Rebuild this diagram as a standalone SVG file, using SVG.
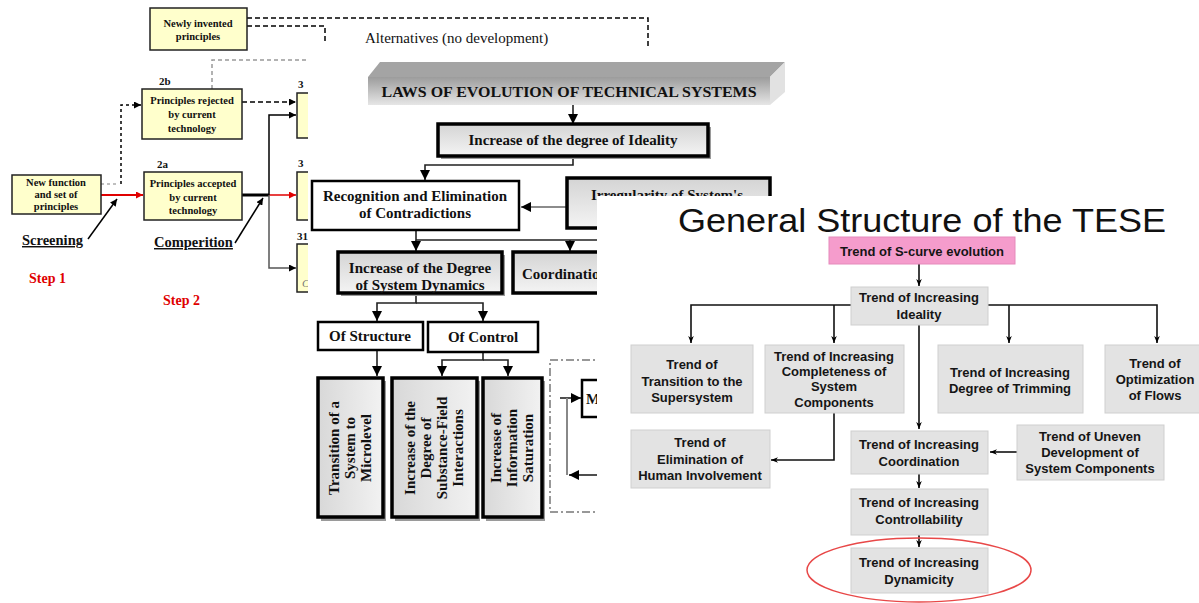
<svg xmlns="http://www.w3.org/2000/svg" width="1199" height="603" viewBox="0 0 1199 603">
<defs>
<marker id="ah" viewBox="0 0 10 10" refX="10" refY="5" markerWidth="7" markerHeight="7" orient="auto" markerUnits="userSpaceOnUse"><path d="M0,0 L10,5 L0,10 z" fill="#000"/></marker>
<marker id="ahr" viewBox="0 0 10 10" refX="10" refY="5" markerWidth="8" markerHeight="7" orient="auto" markerUnits="userSpaceOnUse"><path d="M0,0 L10,5 L0,10 z" fill="#e00000"/></marker>
<marker id="ahm" viewBox="0 0 10 10" refX="10" refY="5" markerWidth="10" markerHeight="10" orient="auto" markerUnits="userSpaceOnUse"><path d="M0,0 L10,5 L0,10 z" fill="#000"/></marker>
<marker id="aht" viewBox="0 0 10 10" refX="10" refY="5" markerWidth="9" markerHeight="7" orient="auto" markerUnits="userSpaceOnUse"><path d="M0,1 L10,5 L0,9 L3,5 z" fill="#000"/></marker>
<linearGradient id="gbar" x1="0" y1="0" x2="0" y2="1"><stop offset="0" stop-color="#9c9c9c"/><stop offset="1" stop-color="#e6e6e6"/></linearGradient>
<linearGradient id="gbox" x1="0" y1="0" x2="0" y2="1"><stop offset="0" stop-color="#d4d4d4"/><stop offset="1" stop-color="#f4f4f4"/></linearGradient>
<linearGradient id="gtall" x1="0" y1="0" x2="1" y2="0"><stop offset="0" stop-color="#d8d8d8"/><stop offset="1" stop-color="#f2f2f2"/></linearGradient>
<style>
.yb{fill:#ffffcc;stroke:#222;stroke-width:1.5}
.lt{font-family:"Liberation Serif",serif;font-weight:bold;font-size:10.5px;text-anchor:middle;fill:#111}
.lb{font-family:"Liberation Serif",serif;font-weight:bold;font-size:11px;fill:#111}
.step{font-family:"Liberation Serif",serif;font-weight:bold;font-size:14px;fill:#e00000}
.ul{font-family:"Liberation Serif",serif;font-weight:bold;font-size:14.5px;fill:#111;text-decoration:underline}
.mt{font-family:"Liberation Serif",serif;font-weight:bold;font-size:15px;text-anchor:middle;fill:#111}
.ms{font-family:"Liberation Serif",serif;font-weight:bold;font-size:15px;text-anchor:start;fill:#111}
.tb{stroke:#000;stroke-width:3.5}
.wb{fill:#fff;stroke:#000;stroke-width:2.5}
.sh{fill:#9a9a9a}
.rt{font-family:"Liberation Sans",sans-serif;font-weight:bold;font-size:13px;text-anchor:middle;fill:#151515}
.gb{fill:#e3e3e3;stroke:#cfcfcf;stroke-width:1}
.ln{fill:none;stroke:#000;stroke-width:1.5}
.lnm{fill:none;stroke:#222;stroke-width:1.6}
.lnr{fill:none;stroke:#111;stroke-width:1.6}
</style>
</defs>
<rect width="1199" height="603" fill="#fff"/>

<!-- LEFT PANEL -->
<g id="left-connectors">
<path d="M247,18 H648 V46" class="ln" stroke-dasharray="5,3"/>
<path d="M247,26 H325 V44" class="ln" stroke-dasharray="5,3"/>
<path d="M212,89 V60 H307" fill="none" stroke="#999" stroke-width="1.5" stroke-dasharray="4,3"/>
<path d="M242,102 H296" class="ln" stroke-dasharray="5,3" marker-end="url(#ah)"/>
<path d="M101,184 H118" fill="none" stroke="#aaa" stroke-width="1.5" stroke-dasharray="3,3"/>
<path d="M121,184 V105 H141" class="ln" stroke-dasharray="3,3" marker-end="url(#ah)"/>
<path d="M101,195 H143" fill="none" stroke="#e00000" stroke-width="2" marker-end="url(#ahr)"/>
<path d="M242,195 H269" fill="none" stroke="#000" stroke-width="3"/>
<path d="M269,195 H296" fill="none" stroke="#e00000" stroke-width="1.5" marker-end="url(#ahr)"/>
<path d="M269,195 V115 H296" class="ln" marker-end="url(#ah)"/>
<path d="M269,195 V268 H296" fill="none" stroke="#555" stroke-width="1.5" marker-end="url(#ah)"/>
<path d="M88,239 L117,199" class="ln" marker-end="url(#ah)"/>
<path d="M235,243 L263,198" class="ln" marker-end="url(#ah)"/>
</g>
<g id="n-newly"><rect class="yb" x="150" y="8" width="97" height="42"/><text class="lt" x="198" y="27">Newly invented</text><text class="lt" x="198" y="40">principles</text></g>
<g id="n-alternatives"><text x="365" y="43" font-family="Liberation Serif, serif" font-size="15" fill="#111">Alternatives (no development)</text></g>
<g id="n-2b"><text class="lb" x="159" y="85">2b</text><rect class="yb" x="142" y="89" width="100" height="50"/><text class="lt" x="192" y="104">Principles rejected</text><text class="lt" x="192" y="118">by current</text><text class="lt" x="192" y="132">technology</text></g>
<g id="n-2a"><text class="lb" x="157" y="168">2a</text><rect class="yb" x="144" y="172" width="98" height="48"/><text class="lt" x="193" y="187">Principles accepted</text><text class="lt" x="193" y="201">by current</text><text class="lt" x="193" y="214">technology</text></g>
<g id="n-newfunc"><rect class="yb" x="12" y="175" width="89" height="39"/><text class="lt" x="56" y="186">New function</text><text class="lt" x="56" y="198">and set of</text><text class="lt" x="56" y="210">principles</text></g>
<g id="n-screening"><text class="ul" x="22" y="245">Screening</text><text class="step" x="29" y="283">Step 1</text></g>
<g id="n-competition"><text class="ul" x="154" y="247">Comperition</text><text class="step" x="163" y="305">Step 2</text></g>
<g id="n-3a"><text class="lb" x="298" y="88">3</text><rect class="yb" x="297" y="93" width="30" height="45"/></g>
<g id="n-3b"><text class="lb" x="298" y="167">3</text><rect class="yb" x="297" y="172" width="30" height="48"/></g>
<g id="n-3c"><text class="lb" x="297" y="240">31</text><rect class="yb" x="297" y="244" width="30" height="48"/><text x="302" y="287" font-family="Liberation Serif, serif" font-style="italic" font-size="11" fill="#777">C</text></g>

<!-- MIDDLE PANEL -->
<rect x="308" y="50" width="490" height="475" fill="#fff"/>
<g id="middle-connectors">
<path d="M573,105 V124" class="lnm" marker-end="url(#ahm)"/>
<path d="M573,156 V165 H425 V180" class="lnm" marker-end="url(#ahm)"/>
<path d="M567,207 H521" fill="none" stroke="#666" stroke-width="1.6" marker-end="url(#ahm)"/>
<path d="M416,230 V240 H600" class="lnm"/>
<path d="M416,240 V251" class="lnm" marker-end="url(#ahm)"/>
<path d="M570,240 V251" class="lnm" marker-end="url(#ahm)"/>
<path d="M416,294 V303 H377 V321" class="lnm" marker-end="url(#ahm)"/>
<path d="M416,303 H483 V321" class="lnm" marker-end="url(#ahm)"/>
<path d="M377,351 V376" class="lnm" marker-end="url(#ahm)"/>
<path d="M483,353 V360 H442 V376" class="lnm" marker-end="url(#ahm)"/>
<path d="M483,360 H508 V376" class="lnm" marker-end="url(#ahm)"/>
<path d="M560,398 H581" class="lnm" marker-end="url(#ahm)"/>
<path d="M567,398 V475" fill="none" stroke="#888" stroke-width="2"/>
<path d="M600,475 H569" class="lnm" marker-end="url(#ahm)"/>
</g>
<g id="n-laws">
<polygon points="368,77 380,62 785,62 770,77" fill="#a4a4a4"/>
<polygon points="368,77 770,77 770,105 368,105" fill="url(#gbar)"/>
<polygon points="770,77 785,62 785,92 770,105" fill="#e2e2e2"/>
<text class="mt" x="569" y="97" font-size="17" textLength="375" lengthAdjust="spacingAndGlyphs">LAWS OF EVOLUTION OF TECHNICAL SYSTEMS</text>
</g>
<g id="n-ideality-m"><rect class="sh" x="441" y="127" width="270" height="32"/><rect class="tb" x="438" y="124" width="270" height="32" fill="url(#gbox)"/><text class="mt" x="573" y="145">Increase of the degree of Ideality</text></g>
<g id="n-recognition"><rect class="wb" x="312" y="181" width="207" height="49"/><text class="mt" x="415" y="201">Recognition and Elimination</text><text class="mt" x="415" y="218">of Contradictions</text></g>
<g id="n-irregularity"><rect class="tb" x="567" y="178" width="203" height="50" fill="url(#gbox)"/><text class="mt" x="667" y="200">Irregularity of System's</text></g>
<g id="n-dynamics"><rect class="sh" x="341" y="255" width="164" height="41"/><rect class="tb" x="338" y="252" width="164" height="41" fill="url(#gbox)"/><text class="mt" x="420" y="273">Increase of the Degree</text><text class="mt" x="420" y="290">of System Dynamics</text></g>
<g id="n-coordination-m"><rect class="tb" x="513" y="252" width="120" height="41" fill="url(#gbox)"/><text class="ms" x="522" y="279">Coordination</text></g>
<g id="n-structure"><rect class="wb" x="318" y="322" width="105" height="28"/><text class="mt" x="370" y="341">Of Structure</text></g>
<g id="n-control"><rect class="wb" x="428" y="322" width="110" height="30"/><text class="mt" x="483" y="342">Of Control</text></g>
<g id="n-microlevel"><rect class="sh" x="321" y="381" width="65" height="140"/><rect class="tb" x="318" y="378" width="65" height="139" fill="url(#gtall)"/>
<g transform="translate(350,448) rotate(-90)"><text class="mt" x="0" y="-11">Transition of a</text><text class="mt" x="0" y="5">System to</text><text class="mt" x="0" y="21">Microlevel</text></g></g>
<g id="n-sufield"><rect class="sh" x="395" y="381" width="85" height="140"/><rect class="tb" x="392" y="378" width="85" height="139" fill="url(#gtall)"/>
<g transform="translate(434,448) rotate(-90)"><text class="mt" x="0" y="-19">Increase of the</text><text class="mt" x="0" y="-3">Degree of</text><text class="mt" x="0" y="13">Substance-Field</text><text class="mt" x="0" y="29">Interactions</text></g></g>
<g id="n-information"><rect class="sh" x="486" y="381" width="59" height="140"/><rect class="tb" x="483" y="378" width="59" height="139" fill="url(#gtall)"/>
<g transform="translate(512,448) rotate(-90)"><text class="mt" x="0" y="-11">Increase of</text><text class="mt" x="0" y="5">Information</text><text class="mt" x="0" y="21">Saturation</text></g></g>
<g id="n-dashbox"><rect x="550" y="360" width="80" height="152" fill="none" stroke="#777" stroke-width="1.5" stroke-dasharray="8,3,2,3"/>
<rect class="wb" x="582" y="380" width="40" height="37"/><text class="ms" x="586" y="404">M</text></g>

<!-- RIGHT PANEL -->
<rect x="597" y="196" width="602" height="407" fill="#fff"/>
<g id="n-title"><text x="678" y="232" font-family="Liberation Sans, Arial, sans-serif" font-size="34" fill="#111" textLength="488" lengthAdjust="spacingAndGlyphs">General Structure of the TESE</text></g>
<g id="right-connectors">
<path d="M919,264 V286" class="lnr" marker-end="url(#aht)"/>
<path d="M851,305 H691 V343" class="lnr" marker-end="url(#aht)"/>
<path d="M834,305 V343" class="lnr" marker-end="url(#aht)"/>
<path d="M988,305 H1157 V343" class="lnr" marker-end="url(#aht)"/>
<path d="M1009,305 V343" class="lnr" marker-end="url(#aht)"/>
<path d="M919,325 V429" class="lnr" marker-end="url(#aht)"/>
<path d="M834,413 V460 H771" class="lnr" marker-end="url(#aht)"/>
<path d="M1017,452 H990" class="lnr" marker-end="url(#aht)"/>
<path d="M919,474 V488" class="lnr" marker-end="url(#aht)"/>
<path d="M919,535 V547" class="lnr" marker-end="url(#aht)"/>
</g>
<g id="n-scurve"><rect x="829" y="237" width="186" height="27" fill="#f59ccc" stroke="#e58abb"/><text class="rt" x="922" y="256">Trend of S-curve evolution</text></g>
<g id="n-ideality"><rect class="gb" x="851" y="287" width="137" height="38"/><text class="rt" x="919" y="302">Trend of Increasing</text><text class="rt" x="919" y="319">Ideality</text></g>
<g id="n-supersystem"><rect class="gb" x="631" y="345" width="122" height="68"/><text class="rt" x="692" y="369">Trend of</text><text class="rt" x="692" y="386">Transition to the</text><text class="rt" x="692" y="402">Supersystem</text></g>
<g id="n-completeness"><rect class="gb" x="765" y="345" width="139" height="68"/><text class="rt" x="834" y="361">Trend of Increasing</text><text class="rt" x="834" y="376">Completeness of</text><text class="rt" x="834" y="391">System</text><text class="rt" x="834" y="407">Components</text></g>
<g id="n-trimming"><rect class="gb" x="938" y="345" width="145" height="68"/><text class="rt" x="1010" y="377">Trend of Increasing</text><text class="rt" x="1010" y="393">Degree of Trimming</text></g>
<g id="n-flows"><rect class="gb" x="1105" y="345" width="100" height="68"/><text class="rt" x="1155" y="368">Trend of</text><text class="rt" x="1155" y="384">Optimization</text><text class="rt" x="1155" y="400">of Flows</text></g>
<g id="n-human"><rect class="gb" x="631" y="430" width="139" height="58"/><text class="rt" x="700" y="447">Trend of</text><text class="rt" x="700" y="464">Elimination of</text><text class="rt" x="700" y="480">Human Involvement</text></g>
<g id="n-coordination"><rect class="gb" x="851" y="431" width="137" height="43"/><text class="rt" x="919" y="449">Trend of Increasing</text><text class="rt" x="919" y="466">Coordination</text></g>
<g id="n-uneven"><rect class="gb" x="1017" y="425" width="147" height="55"/><text class="rt" x="1090" y="441">Trend of Uneven</text><text class="rt" x="1090" y="457">Development of</text><text class="rt" x="1090" y="473">System Components</text></g>
<g id="n-controllability"><rect class="gb" x="851" y="489" width="137" height="46"/><text class="rt" x="919" y="507">Trend of Increasing</text><text class="rt" x="919" y="524">Controllability</text></g>
<g id="n-dynamicity"><rect class="gb" x="851" y="548" width="137" height="45"/><text class="rt" x="919" y="567">Trend of Increasing</text><text class="rt" x="919" y="584">Dynamicity</text></g>
<g id="highlight"><ellipse cx="919" cy="570" rx="112" ry="32" fill="none" stroke="#e84848" stroke-width="1.5"/></g>
</svg>
